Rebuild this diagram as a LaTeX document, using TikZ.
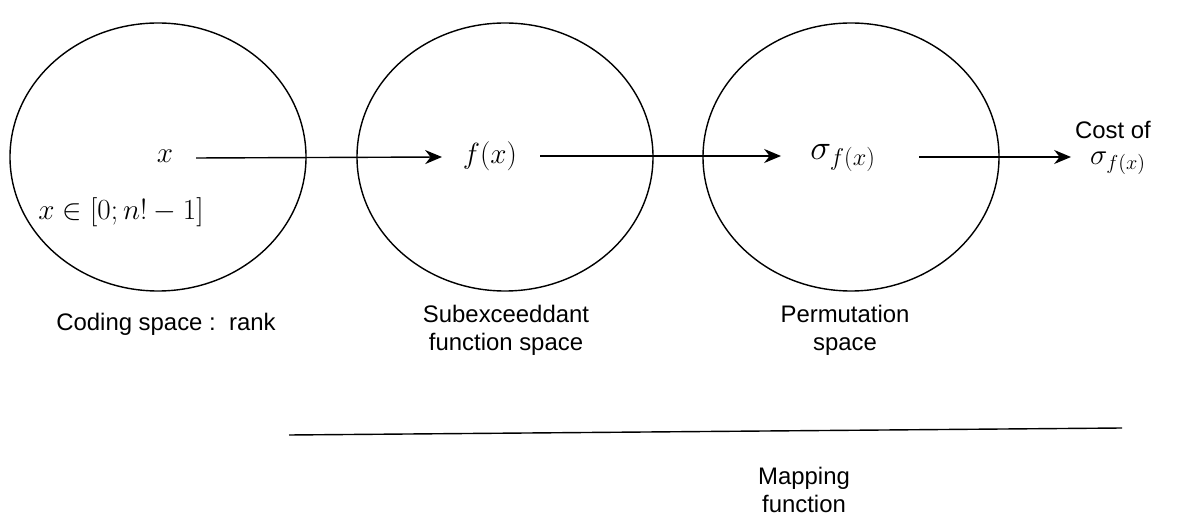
\documentclass[tikz,border=0pt]{standalone}
\usepackage{fontspec}
\setmainfont{Liberation Sans}
\usetikzlibrary{arrows.meta}
\begin{document}
\begin{tikzpicture}[x=0.025cm,y=-0.025cm,
  arr/.style={-{Stealth[length=12pt,width=10pt]},line width=1pt},
  lbl/.style={font=\fontsize{17}{19.8}\selectfont,align=center},
  mth/.style={font=\fontsize{21.5}{24}\selectfont}]
\useasboundingbox (0,0) rectangle (1189,523);
\draw[line width=1pt] (158,157) ellipse [x radius=148, y radius=134];
\draw[line width=1pt] (505,157) ellipse [x radius=148, y radius=134];
\draw[line width=1pt] (851,157) ellipse [x radius=148, y radius=134];
\node[mth] (x) at (165,156) {$x$};
\node[mth] (fx) at (490,156) {$f(x)$};
\node[mth,font=\fontsize{24}{26}\selectfont] (s) at (843,158) {$\sigma_{f(x)}$};
\node[lbl] (cost) at (1113,130) {Cost of};
\node[mth,font=\fontsize{20}{22}\selectfont] (cs) at (1118,163) {$\sigma_{f(x)}$};
\coordinate (a1s) at (196,158);
\coordinate (a1e) at (442,157);
\coordinate (a2s) at (540,156);
\coordinate (a2e) at (781,156);
\coordinate (a3s) at (919,157);
\coordinate (a3e) at (1071,157);
\draw[arr] (a1s) -- (a1e);
\draw[arr] (a2s) -- (a2e);
\draw[arr] (a3s) -- (a3e);
\node[mth] (dom) at (121,212) {$x\in[0;n!-1]$};
\node[lbl] (cod) at (166,324) {Coding space :\ \ rank};
\node[lbl] (sub) at (506,330) {Subexceeddant\\function space};
\node[lbl] (perm) at (845,330) {Permutation\\space};
\coordinate (l1) at (289,435);
\coordinate (l2) at (1122,428);
\draw[line width=1pt] (l1) -- (l2);
\node[lbl] (map) at (804,490) {Mapping\\function};
\end{tikzpicture}
\end{document}
